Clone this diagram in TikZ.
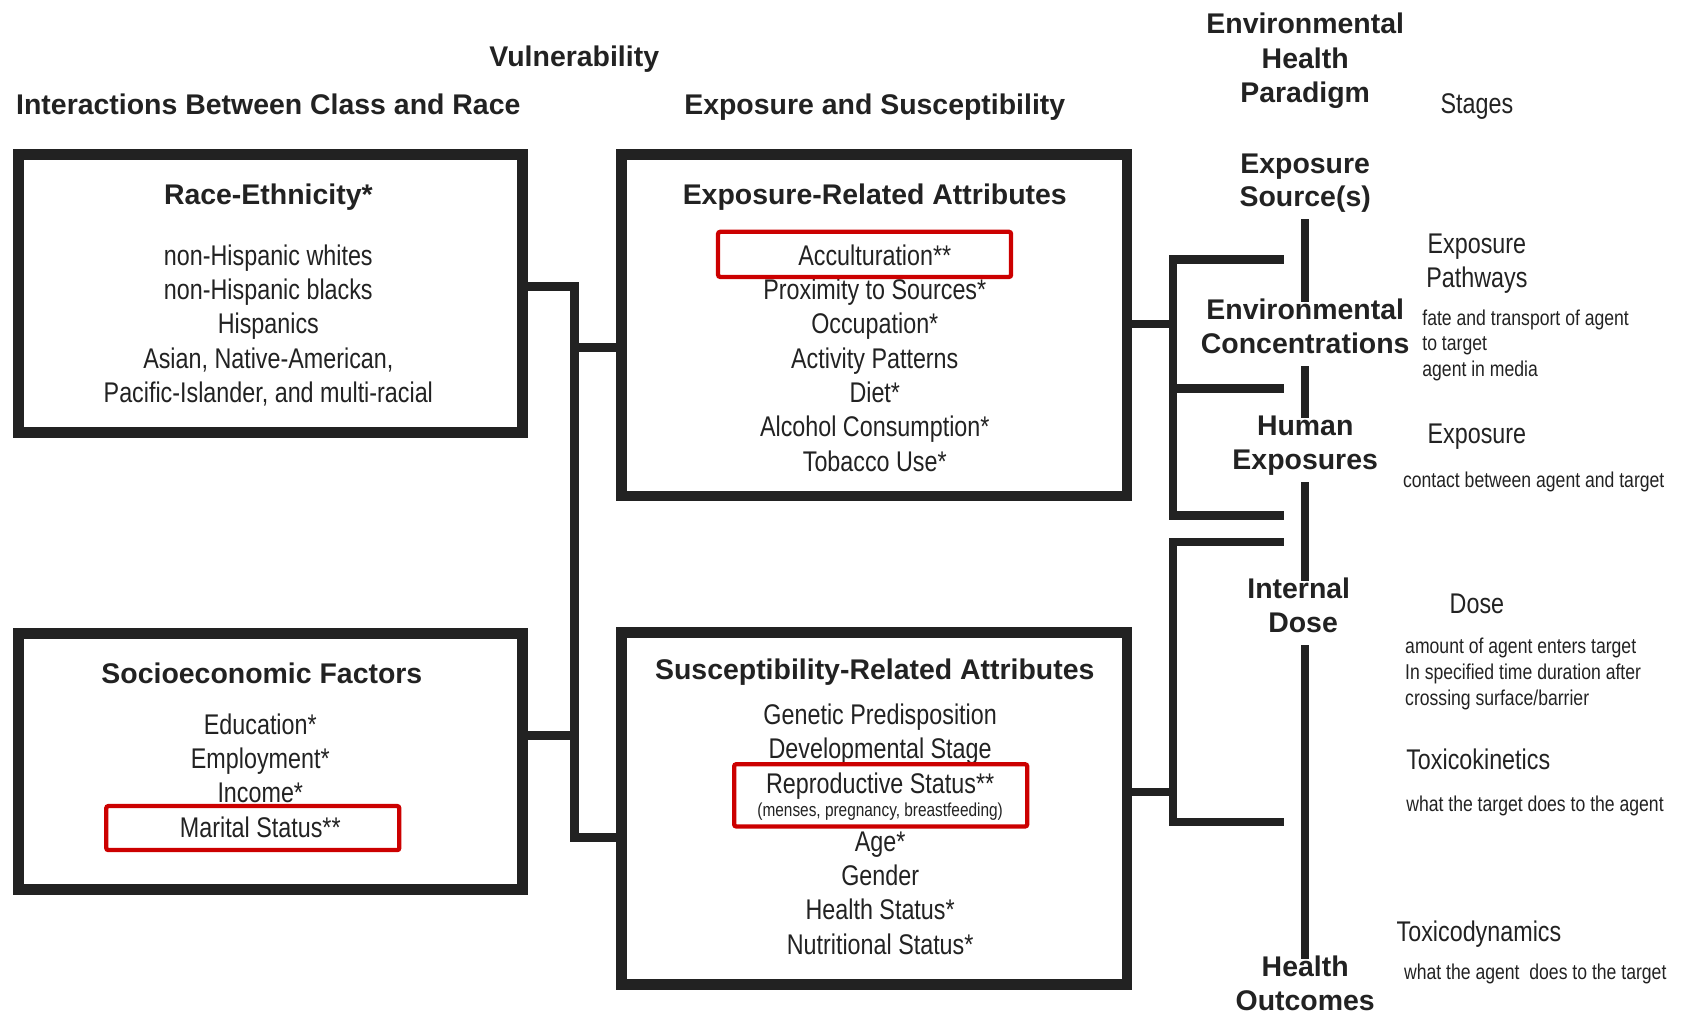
\documentclass[tikz,border=0pt]{standalone}
\usepackage{fontspec}
\setmainfont{Liberation Sans}
\newfontfamily\narrowfont[FakeStretch=0.82]{Liberation Sans}
\usetikzlibrary{positioning}
\definecolor{inkgray}{RGB}{34,34,34}
\definecolor{markred}{RGB}{204,0,0}
\newcommand{\headfont}{\bfseries\fontsize{26.5}{32}\selectfont}
\newcommand{\itemfont}{\narrowfont\fontsize{26.5}{32}\selectfont}
\newcommand{\notefont}{\narrowfont\fontsize{20}{24}\selectfont}
\newcommand{\parenfont}{\narrowfont\fontsize{17.5}{20}\selectfont}
\begin{document}
\begin{tikzpicture}
  [x=1pt,y=-1pt,inner sep=0pt,every node/.style={text=inkgray},
   head/.style={font=\headfont,anchor=base},
   stage/.style={font=\headfont,anchor=base,text height=19.3pt,text depth=5.6pt},
   entry/.style={font=\itemfont,anchor=base},
   note/.style={font=\notefont,anchor=base west},
   bigbox/.style={draw=inkgray,line width=10pt,minimum width=470pt},
   redbox/.style={draw=markred,line width=4pt,rounded corners=2pt,minimum width=273pt},
   conn/.style={draw=inkgray,line width=8pt},
   stem/.style={draw=inkgray,line width=8pt,shorten <=6pt,shorten >=-3.5pt}]
\useasboundingbox (0,0) rectangle (1568,945);
% column headings
\node (vuln)[head] at (535,61.5) {Vulnerability};
\node (classrace)[head] at (250,106.5) {Interactions Between Class and Race};
\node (expsus)[head] at (815,106.5) {Exposure and Susceptibility};
\node (par1)[head] at (1216,31.5) {Environmental};
\node (par2)[head] at (1216,63.5) {Health};
\node (par3)[head] at (1216,95.5) {Paradigm};
\node (stages)[entry] at (1376,106) {Stages};
% boxes
\node (race)[bigbox,minimum height=259pt] at (252,273.5) {};
\node (socio)[bigbox,minimum height=239pt] at (252,709.5) {};
\node (expo)[bigbox,minimum width=471pt,minimum height=318pt] at (814.5,303) {};
\node (susc)[bigbox,minimum width=471pt,minimum height=328pt] at (814.5,753) {};
\node (racehead)[head] at (250,190.5) {Race-Ethnicity*};
\node (sociohead)[head] at (244,636.5) {Socioeconomic Factors};
\node (expohead)[head] at (815,190.5) {Exposure-Related Attributes};
\node (suschead)[head] at (815,633.5) {Susceptibility-Related Attributes};
\foreach \t [count=\i] in {non-Hispanic whites,non-Hispanic blacks,Hispanics,{Asian, Native-American,},{Pacific-Islander, and multi-racial}}
  \node (race\i)[entry] at (250,215+32*\i) {\t};
\foreach \t [count=\i] in {Education*,Employment*,Income*,Marital Status**}
  \node (socio\i)[entry] at (242.5,652+32*\i) {\t};
\foreach \t [count=\i] in {Acculturation**,Proximity to Sources*,Occupation*,Activity Patterns,Diet*,Alcohol Consumption*,Tobacco Use*}
  \node (expo\i)[entry] at (815,215+32*\i) {\t};
\foreach \t/\y [count=\i] in {Genetic Predisposition/675,Developmental Stage/707,Reproductive Status**/739,Age*/793,Gender/825,Health Status*/857,Nutritional Status*/889}
  \node (susc\i)[entry] at (820,\y) {\t};
\node (suscparen)[entry,font=\parenfont] at (820,761) {(menses, pregnancy, breastfeeding)};
\node (accult)[redbox,minimum height=42pt] at (805.5,237) {};
\node (marital)[redbox,minimum height=41pt] at (235.5,771.5) {};
\node (reprod)[redbox,minimum height=58pt] at (820.5,741) {};
% left connectors
\coordinate (lt) at (535,267);
\coordinate (lb) at (535,780);
\coordinate (lx) at (535,324);
\coordinate (ls) at (535,685);
\draw[conn] (race.east |- lt) -- (lt) -- (lb) -- (susc.west |- lb);
\draw[conn] (lx) -- (expo.west |- lx);
\draw[conn] (socio.east |- ls) -- (ls);
% right brackets
\coordinate (rj) at (1093,302);
\coordinate (ra) at (1196,242);
\coordinate (rm) at (1196,362);
\coordinate (rz) at (1196,480);
\draw[conn] (ra) -- (ra -| rj) -- (rz -| rj) -- (rz);
\draw[conn] (rm -| rj) -- (rm);
\draw[conn] (expo.east |- rj) -- (rj);
\coordinate (sj) at (1093,738);
\coordinate (sa) at (1196,505);
\coordinate (sz) at (1196,766);
\draw[conn] (sa) -- (sa -| sj) -- (sz -| sj) -- (sz);
\draw[conn] (susc.east |- sj) -- (sj);
% paradigm stages
\node (src1)[stage] at (1216,161.5) {Exposure};
\node (src2)[stage] at (1216,192.5) {Source(s)};
\node (conc1)[stage] at (1216,297.5) {Environmental};
\node (conc2)[stage] at (1216,329.5) {Concentrations};
\node (hum1)[stage] at (1216,405.5) {Human};
\node (hum2)[stage] at (1216,437.5) {Exposures};
\node (dose1)[stage] at (1210,557.5) {Internal};
\node (dose2)[stage] at (1214,589.5) {Dose};
\node (out1)[stage] at (1216,909.5) {Health};
\node (out2)[stage] at (1216,941.5) {Outcomes};
\draw[stem] (src2.south) -- (conc1.north);
\draw[stem] (conc2.south) -- (hum1.north);
\draw[stem] (hum2.south) -- (hum2.south |- dose1.north);
\draw[stem] (dose2.south -| out1.north) -- (out1.north);
% stage notes
\node (path1)[entry] at (1376,236) {Exposure};
\node (path2)[entry] at (1376,268) {Pathways};
\node (fate1)[note] at (1325,303) {fate and transport of agent};
\node (fate2)[note] at (1325,327) {to target};
\node (fate3)[note] at (1325,351) {agent in media};
\node (expw)[entry] at (1376,413) {Exposure};
\node (contact)[note] at (1307,454) {contact between agent and target};
\node (dosew)[entry] at (1376,572) {Dose};
\node (amt1)[note] at (1309,609) {amount of agent enters target};
\node (amt2)[note] at (1309,633) {In specified time duration after};
\node (amt3)[note] at (1309,657) {crossing surface/barrier};
\node (tkin)[entry,anchor=base west] at (1310,717) {Toxicokinetics};
\node (tkinw)[note] at (1310,756) {what the target does to the agent};
\node (tdyn)[entry,anchor=base west] at (1301,877) {Toxicodynamics};
\node (tdynw)[note] at (1308,913) {what the agent\ \ does to the target};
\end{tikzpicture}
\end{document}
